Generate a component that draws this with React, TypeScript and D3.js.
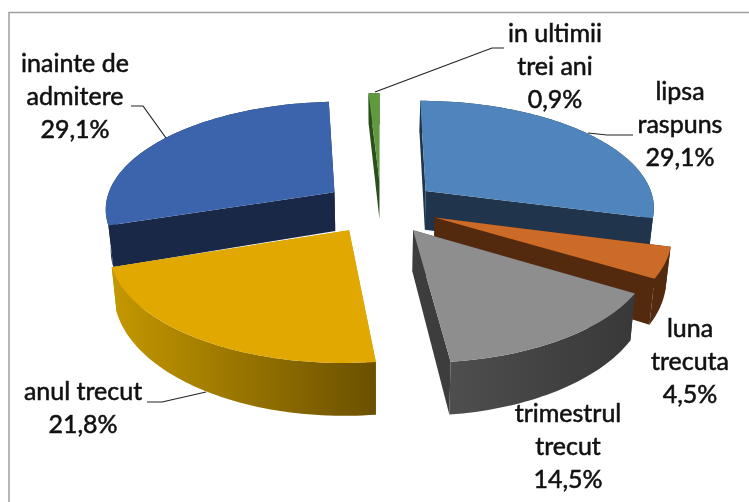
import React from "react";
import * as d3 from "d3";

const categories = ["lipsa raspuns", "luna trecuta", "trimestrul trecut", "anul trecut", "inainte de admitere", "in ultimii trei ani"];
const values = [29.1, 4.5, 14.5, 21.8, 29.1, 0.9];
const labelLines = [["lipsa", "raspuns"], ["luna", "trecuta"], ["trimestrul", "trecut"], ["anul trecut"], ["inainte de", "admitere"], ["in ultimii", "trei ani"]];
const topColors = ["#4F85BC", "#CC6A27", "#8E8E8E", "#E0A800", "#3B64AC", "#5F9A3E"];
const cutColors = ["#20354C", "#542A0E", "#3D3D3D", "#C49800", "#182846", "#2A4F1C"];
const wallFrom = ["#20354C", "#542A0E", "#4E4E4E", "#C49800", "#182846", "#2A4F1C"];
const wallTo = ["#20354C", "#542A0E", "#383838", "#6B5000", "#182846", "#2A4F1C"];
const drawOrder = [4, 0, 5, 1, 2, 3];

// label layout: centre x and first baseline
const labelPos = [
  { x: 680, y: 100 }, { x: 690, y: 337 }, { x: 568, y: 422 },
  { x: 83, y: 400 }, { x: 75, y: 72 }, { x: 555, y: 42 },
];
const leaders: ([number, number][] | null)[] = [
  [[588, 133], [607, 135], [633, 135]],
  null,
  null,
  [[147, 402], [162, 402], [206, 392]],
  [[131, 106], [143, 106], [166, 138]],
  [[375, 92], [492, 48], [504, 48]],
];

const W = 749, H = 502;
const cx = 381, cy = 207, A = 230, B = 107, D = 40, P = 0.14, EXPLODE = 0.25, ZSHRINK = 0.018;

const project = (u: number, v: number, z: number): [number, number] => {
  const s = 1 / (1 - P * v);
  return [cx + u * A * s * (1 - ZSHRINK * z), cy + v * B * s + z * D * Math.pow(s, 1.5)];
};

const arcs = d3.pie<number>().sort(null).startAngle(0).endAngle(2 * Math.PI)(values);
const line = d3.line<[number, number]>();

function slice(i: number) {
  const a = arcs[i];
  const mid = (a.startAngle + a.endAngle) / 2;
  const ou = EXPLODE * Math.sin(mid), ov = -EXPLODE * Math.cos(mid);
  const n = Math.max(4, Math.ceil((a.endAngle - a.startAngle) * 40));
  const angs = d3.range(n + 1).map((k) => a.startAngle + ((a.endAngle - a.startAngle) * k) / n);
  const rim = angs.map((t) => [ou + Math.sin(t), ov - Math.cos(t)] as [number, number]);
  const apexTop = project(ou, ov, 0), apexBot = project(ou, ov, 1);
  const rimTop = rim.map(([u, v]) => project(u, v, 0));
  const rimBot = rim.map(([u, v]) => project(u, v, 1));
  const close = (p: [number, number][]) => line(p) + "Z";
  return {
    top: close([apexTop, ...rimTop]),
    wall: close([...rimTop, ...rimBot.slice().reverse()]),
    cutA: close([apexTop, rimTop[0], rimBot[0], apexBot]),
    cutB: close([apexTop, rimTop[n], rimBot[n], apexBot]),
    x0: d3.min(rimTop, (d) => d[0])!,
    x1: d3.max(rimTop, (d) => d[0])!,
  };
}

const fmt = (v: number) => v.toFixed(1).replace(".", ",") + "%";

export default function App() {
  return (
    <svg width={W} height={H} viewBox={`0 0 ${W} ${H}`}
      style={{ position: "absolute", left: 0, top: 0, display: "block", background: "#fff", filter: "blur(0.45px)" }}>
      <defs>
        {values.map((_, i) => {
          const s = slice(i);
          return (
            <linearGradient key={i} id={`wall${i}`} gradientUnits="userSpaceOnUse" x1={s.x0} x2={s.x1} y1={0} y2={0}>
              <stop offset="0" stopColor={wallFrom[i]} />
              <stop offset="1" stopColor={wallTo[i]} />
            </linearGradient>
          );
        })}
      </defs>
      <rect x={9} y={12.5} width={W} height={H} fill="#fff" stroke="#a0a0a0" strokeWidth={1.5} />
      {drawOrder.map((i) => {
        const s = slice(i);
        return (
          <g key={categories[i]}>
            <path d={s.cutA} fill={cutColors[i]} />
            <path d={s.cutB} fill={cutColors[i]} />
            <path d={s.wall} fill={`url(#wall${i})`} />
            <path d={s.top} fill={topColors[i]} />
          </g>
        );
      })}
      {leaders.map((l, i) =>
        l ? <path key={i} d={line(l)!} fill="none" stroke="#222" strokeWidth={1.2} /> : null
      )}
      <g fontFamily="Lato" fontSize={25} fill="#111" stroke="#111" strokeWidth={0.55} textAnchor="middle">
        {values.map((v, i) => {
          const lines = [...labelLines[i], fmt(v)];
          return (
            <text key={i}>
              {lines.map((t, k) => (
                <tspan key={k} x={labelPos[i].x} y={labelPos[i].y + k * 33}>{t}</tspan>
              ))}
            </text>
          );
        })}
      </g>
    </svg>
  );
}
